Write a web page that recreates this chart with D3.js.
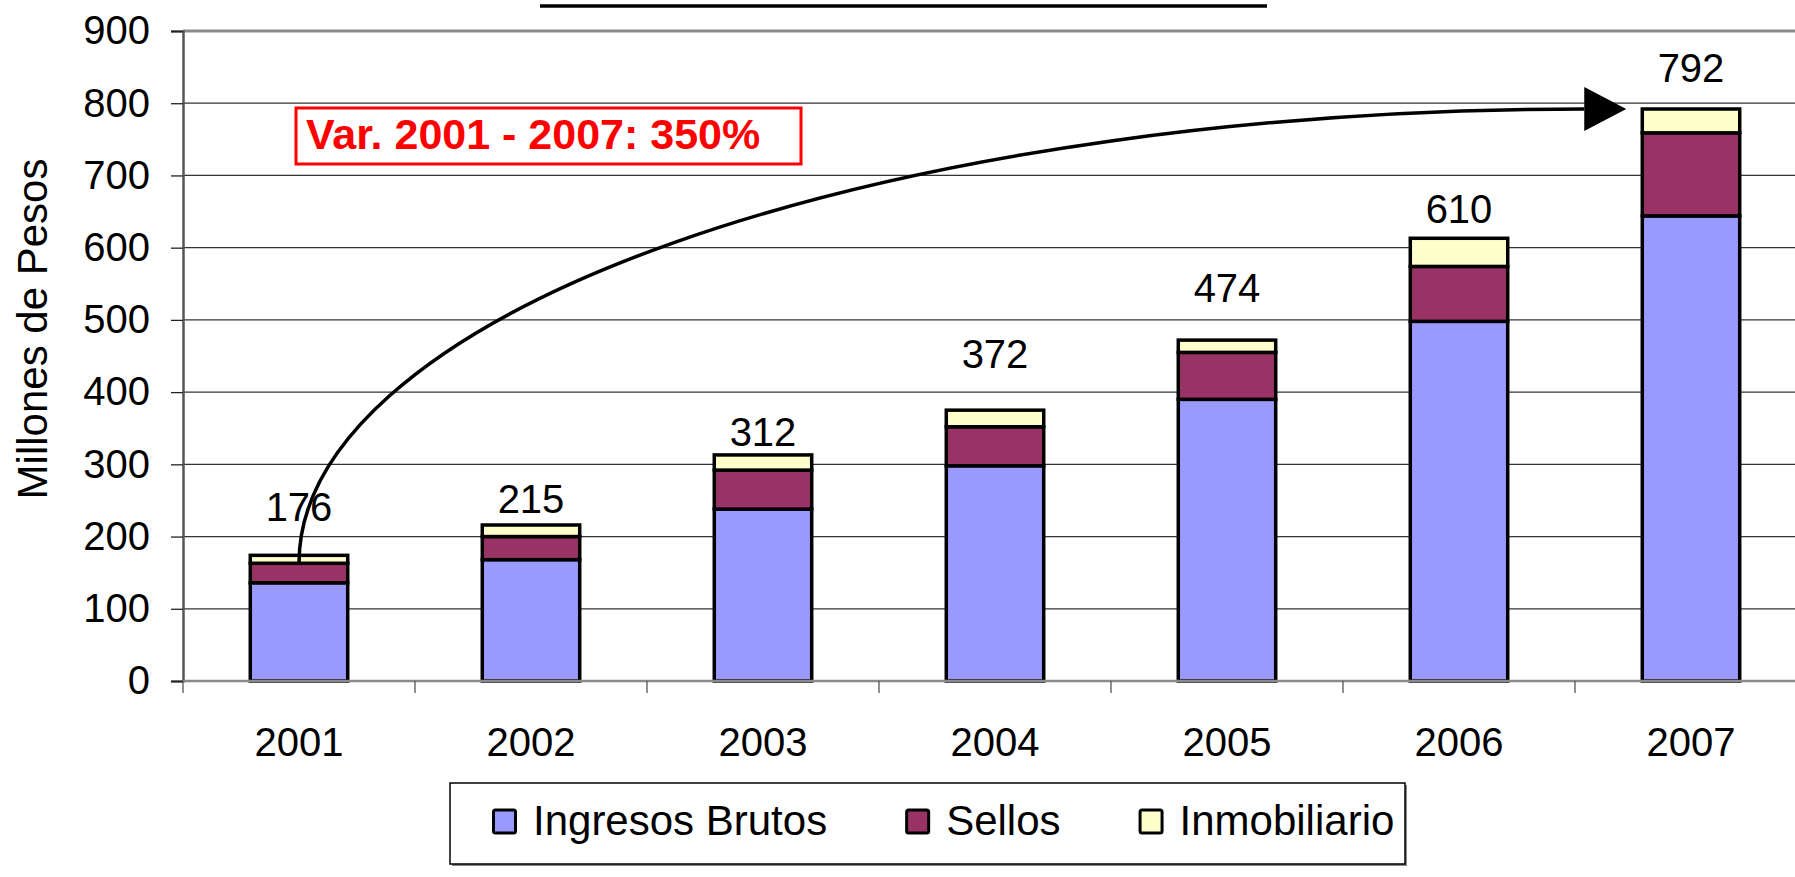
<!DOCTYPE html>
<meta charset="utf-8">
<script src="https://d3js.org/d3.v7.min.js"></script>
<style>
    body { margin: 0; background: white; }
    svg { display: block; font-family: "Liberation Sans", Arial, sans-serif; }
</style>
<body>
<script>
"use strict"

// data
var years = ["2001", "2002", "2003", "2004", "2005", "2006", "2007"]
var ingresosBrutos = [136, 168, 238, 298, 390, 498, 644]
var sellos = [27, 32, 54, 54, 65, 76, 115]
var inmobiliario = [11, 16, 21, 23, 17, 39, 33]
var totals = ["176", "215", "312", "372", "474", "610", "792"]
// where each total label sits, in axis units (baseline)
var labelAt = [222, 233, 326, 433, 525, 634, 829]
var seriesNames = ["Ingresos Brutos", "Sellos", "Inmobiliario"]
var seriesColors = ["#9999FF", "#993366", "#FFFFCC"]
var yTicks = [0, 100, 200, 300, 400, 500, 600, 700, 800, 900]
var varText = "Var. 2001 - 2007: 350%"

var W = 1795, H = 877
var plotLeft = 183, plotRight = 1807, plotTop = 31, plotBottom = 681

var svg = d3.select("body").append("svg")
    .attr("width", W)
    .attr("height", H)

var y = d3.scaleLinear().domain([0, 900]).range([plotBottom, plotTop])
var xCat = d3.scaleBand().domain(years).range([plotLeft, plotRight])
var x = d3.scaleBand().domain(years).range([plotLeft, plotRight])
    .paddingInner(0.58).paddingOuter(0.29)

// gridlines
svg.append("g").selectAll("line")
    .data(yTicks.filter(function(d){ return d > 0 && d < 900 }))
    .enter().append("line")
    .attr("x1", plotLeft).attr("x2", plotRight)
    .attr("y1", function(d){ return y(d) }).attr("y2", function(d){ return y(d) })
    .attr("stroke", "#333").attr("stroke-width", 1.2)

// plot top border
svg.append("line")
    .attr("x1", plotLeft).attr("x2", plotRight)
    .attr("y1", y(900)).attr("y2", y(900))
    .attr("stroke", "#8a8a8a").attr("stroke-width", 3)

// y axis
var yAxis = svg.append("g")
    .attr("transform", "translate(" + plotLeft + ",0)")
    .call(d3.axisLeft(y).tickValues(yTicks).tickSize(12).tickPadding(21))
yAxis.select(".domain").attr("stroke", "#555").attr("stroke-width", 2.5)
yAxis.selectAll(".tick line").attr("stroke", "#222").attr("stroke-width", 1.3)
yAxis.selectAll(".tick text")
    .attr("font-size", 40).attr("fill", "#000")
    .attr("font-family", "'Liberation Sans', Arial, sans-serif")

svg.append("text")
    .attr("transform", "translate(47," + 329 + ") rotate(-90)")
    .attr("text-anchor", "middle")
    .attr("font-size", 42)
    .text("Millones de Pesos")

// stacked bars
var table = years.map(function(yr, i){
    return { year: yr, "Ingresos Brutos": ingresosBrutos[i], "Sellos": sellos[i], "Inmobiliario": inmobiliario[i] }
})
var stacked = d3.stack().keys(seriesNames)(table)

svg.append("g").selectAll("g")
    .data(stacked)
    .enter().append("g")
    .attr("fill", function(d, i){ return seriesColors[i] })
    .selectAll("rect")
    .data(function(d){ return d })
    .enter().append("rect")
    .attr("x", function(d){ return x(d.data.year) })
    .attr("width", x.bandwidth())
    .attr("y", function(d){ return y(d[1]) })
    .attr("height", function(d){ return y(d[0]) - y(d[1]) })
    .attr("stroke", "#000")
    .attr("stroke-width", 3.5)

// x axis
svg.append("line")
    .attr("x1", plotLeft).attr("x2", plotRight)
    .attr("y1", plotBottom).attr("y2", plotBottom)
    .attr("stroke", "#8a8a8a").attr("stroke-width", 2.5)

svg.append("g").selectAll("line")
    .data(years.concat(["end"]))
    .enter().append("line")
    .attr("x1", function(d, i){ return plotLeft + i * xCat.step() })
    .attr("x2", function(d, i){ return plotLeft + i * xCat.step() })
    .attr("y1", plotBottom).attr("y2", plotBottom + 12)
    .attr("stroke", "#555").attr("stroke-width", 1.3)

svg.append("g").selectAll("text")
    .data(years)
    .enter().append("text")
    .attr("x", function(d){ return xCat(d) + xCat.bandwidth() / 2 })
    .attr("y", 756)
    .attr("text-anchor", "middle")
    .attr("font-size", 40)
    .text(function(d){ return d })

// total labels
svg.append("g").selectAll("text")
    .data(totals)
    .enter().append("text")
    .attr("x", function(d, i){ return x(years[i]) + x.bandwidth() / 2 })
    .attr("y", function(d, i){ return y(labelAt[i]) })
    .attr("text-anchor", "middle")
    .attr("font-size", 40)
    .text(function(d){ return d })

// growth arrow: from 2001 bar to the 2007 total
var x0 = x(years[0]) + x.bandwidth() / 2
var y0 = y(ingresosBrutos[0] + sellos[0])
var tipX = x(years[6]) - 16
var yEnd = y(+totals[6])
var baseX = tipX - 42
svg.append("path")
    .attr("d", "M" + x0 + "," + y0 + " A" + (baseX - x0) + "," + (y0 - yEnd) + " 0 0 1 " + baseX + "," + yEnd)
    .attr("fill", "none")
    .attr("stroke", "#000")
    .attr("stroke-width", 3.5)
svg.append("path")
    .attr("d", "M" + baseX + "," + (yEnd - 22) + " L" + tipX + "," + yEnd + " L" + baseX + "," + (yEnd + 22) + " Z")
    .attr("fill", "#000")

// annotation box
svg.append("rect")
    .attr("x", 296).attr("y", 108)
    .attr("width", 505).attr("height", 56)
    .attr("fill", "#fff")
    .attr("stroke", "#FF0000")
    .attr("stroke-width", 3)
svg.append("text")
    .attr("x", 306).attr("y", 149)
    .attr("font-size", 43)
    .attr("font-weight", "bold")
    .attr("fill", "#FF0000")
    .text(varText)

// remnant title rule
svg.append("line")
    .attr("x1", 540).attr("x2", 1267)
    .attr("y1", 6).attr("y2", 6)
    .attr("stroke", "#000").attr("stroke-width", 3.5)

// legend
var lg = svg.append("g")
lg.append("rect")
    .attr("x", 452).attr("y", 785)
    .attr("width", 955).attr("height", 81)
    .attr("fill", "#888")
lg.append("rect")
    .attr("x", 450).attr("y", 783)
    .attr("width", 955).attr("height", 81)
    .attr("fill", "#fff")
    .attr("stroke", "#000")
    .attr("stroke-width", 1.5)

var lx = 492
seriesNames.forEach(function(name, i){
    lg.append("rect")
        .attr("x", lx + 1.5).attr("y", 810)
        .attr("width", 22).attr("height", 23)
        .attr("rx", 2)
        .attr("fill", seriesColors[i])
        .attr("stroke", "#000")
        .attr("stroke-width", 3)
    var t = lg.append("text")
        .attr("x", lx + 41).attr("y", 835)
        .attr("font-size", 42)
        .text(name)
    lx = lx + 41 + t.node().getComputedTextLength() + 78
})
</script>
</body>
